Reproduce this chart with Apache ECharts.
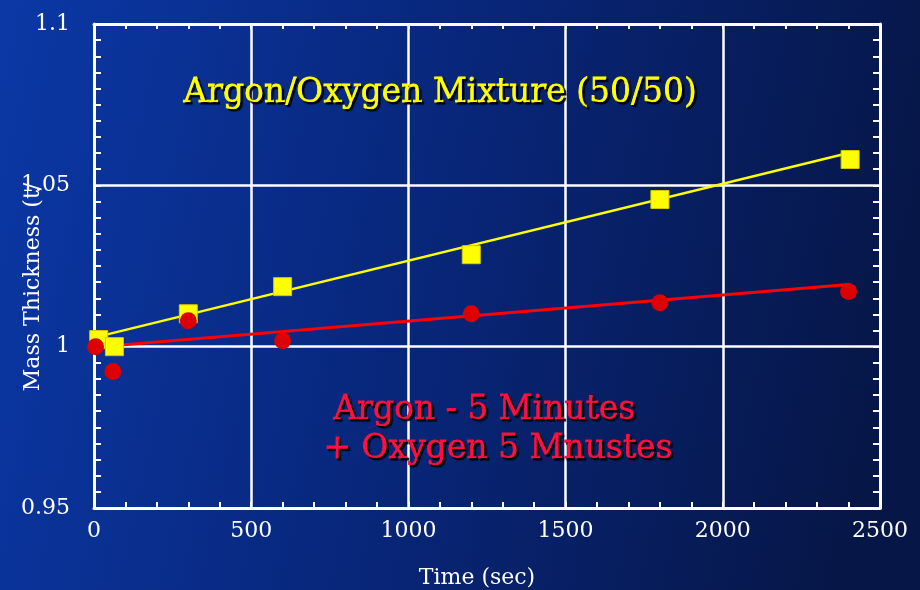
<!DOCTYPE html>
<html>
<head>
<meta charset="utf-8">
<script src="https://cdn.jsdelivr.net/npm/echarts@6/dist/echarts.min.js"></script>
<style>html,body{margin:0;padding:0;}#c{width:920px;height:590px;}</style>
</head>
<body>
<div id="c"></div>
<script>
// Argon/Oxygen mixture (50/50) - yellow squares
var mixTime = [15, 65, 300, 600, 1200, 1800, 2405];
var mixThick = [1.0022, 1.0, 1.0102, 1.0186, 1.0285, 1.0456, 1.058];
// Argon 5 min + Oxygen 5 min - red circles
var seqTime = [5, 60, 300, 600, 1200, 1800, 2400];
var seqThick = [1.0, 0.9923, 1.008, 1.0018, 1.0102, 1.0136, 1.0171];
// fitted lines (endpoints)
var mixFitTime = [0, 2400];
var mixFitThick = [1.0028, 1.060];
var seqFitTime = [0, 2400];
var seqFitThick = [0.9998, 1.0193];
// axis ranges
var xTicks = [0, 500, 1000, 1500, 2000, 2500];
var yTicks = [0.95, 1.0, 1.05, 1.1];
var mixTitle = 'Argon/Oxygen Mixture (50/50)';
var seqTitle1 = 'Argon - 5 Minutes';
var seqTitle2 = '+ Oxygen 5 Mnustes';
var xName = 'Time (sec)';
var yName = 'Mass Thickness (t/';

function zip(a, b) { return a.map(function (v, i) { return [v, b[i]]; }); }

var chart = echarts.init(document.getElementById('c'));
var serif = 'DejaVu Serif';
var white = '#ffffff';
var xBase = {
  type: 'value', min: xTicks[0], max: xTicks[xTicks.length - 1], interval: 500,
  axisLine: { show: true, onZero: false, lineStyle: { color: white, width: 3 } },
  axisTick: { show: true, inside: true, length: 6, lineStyle: { color: white, width: 2 } },
  minorTick: { show: true, splitNumber: 5, length: 6, lineStyle: { color: white, width: 2 } },
  splitLine: { show: false }
};
var yBase = {
  type: 'value', min: yTicks[0], max: yTicks[yTicks.length - 1], interval: 0.05,
  axisLine: { show: true, onZero: false, lineStyle: { color: white, width: 3 } },
  axisTick: { show: true, inside: true, length: 7, lineStyle: { color: white, width: 2 } },
  minorTick: { show: true, splitNumber: 10, length: 7, lineStyle: { color: white, width: 2 } },
  splitLine: { show: false }
};

function shadowText(left, top, text, color) {
  return {
    type: 'text', left: left, top: top, z: 100,
    style: { text: text, fill: color, font: '33px "DejaVu Serif"',
      stroke: color, lineWidth: 0.8,
      textShadowColor: '#000000', textShadowOffsetX: 2, textShadowOffsetY: 2, textShadowBlur: 1 }
  };
}

var option = {
  animation: false,
  backgroundColor: {
    type: 'linear', x: 0, y: 0, x2: 1, y2: 0.35,
    colorStops: [
      { offset: 0, color: '#0b38a6' },
      { offset: 0.5, color: '#08267a' },
      { offset: 1, color: '#061647' }
    ]
  },
  grid: { left: 94, right: 40, top: 24, bottom: 82 },
  xAxis: [
    Object.assign({}, xBase, {
      position: 'bottom',
      axisLabel: { color: white, fontFamily: serif, fontSize: 22, margin: 12,
        formatter: function (v) { return String(v); } },
      splitLine: { show: true, lineStyle: { color: white, width: 2.5 } }
    }),
    Object.assign({}, xBase, {
      position: 'top', axisLabel: { show: false },
      axisTick: { show: true, inside: true, length: 5, lineStyle: { color: white, width: 2 } },
      minorTick: { show: true, splitNumber: 5, length: 5, lineStyle: { color: white, width: 2 } }
    })
  ],
  yAxis: [
    Object.assign({}, yBase, {
      position: 'left',
      axisLabel: { color: white, fontFamily: serif, fontSize: 22, margin: 24 },
      splitLine: { show: true, lineStyle: { color: white, width: 2.5 } }
    }),
    Object.assign({}, yBase, {
      position: 'right', axisLabel: { show: false }
    })
  ],
  graphic: [
    shadowText(183, 77, mixTitle, '#ffff00'),
    shadowText(333, 394, seqTitle1, '#ff1040'),
    shadowText(323, 433, seqTitle2, '#ff1040'),
    {
      type: 'text', x: 477, y: 578, z: 100,
      style: { text: xName, fill: white, font: '22px "DejaVu Serif"', align: 'center', verticalAlign: 'middle' }
    },
    {
      type: 'text', x: 33, y: 287, rotation: Math.PI / 2, z: 100,
      style: { text: yName, fill: white, font: '22px "DejaVu Serif"', align: 'center', verticalAlign: 'middle' }
    }
  ],
  series: [
    {
      type: 'line', data: zip(mixFitTime, mixFitThick), symbol: 'none', z: 2,
      lineStyle: { color: '#ffff00', width: 2.5 }
    },
    {
      type: 'line', data: zip(seqFitTime, seqFitThick), symbol: 'none', z: 2,
      lineStyle: { color: '#ff0000', width: 3 }
    },
    {
      type: 'scatter', data: zip(mixTime, mixThick), symbol: 'rect', symbolSize: 18, z: 3,
      itemStyle: { color: '#ffff00', borderColor: '#d8c800', borderWidth: 1, opacity: 1 }
    },
    {
      type: 'scatter', data: zip(seqTime, seqThick), symbol: 'circle', symbolSize: 17, z: 4,
      itemStyle: { color: '#dd0000', opacity: 1 }
    }
  ]
};
chart.setOption(option);
</script>
</body>
</html>
